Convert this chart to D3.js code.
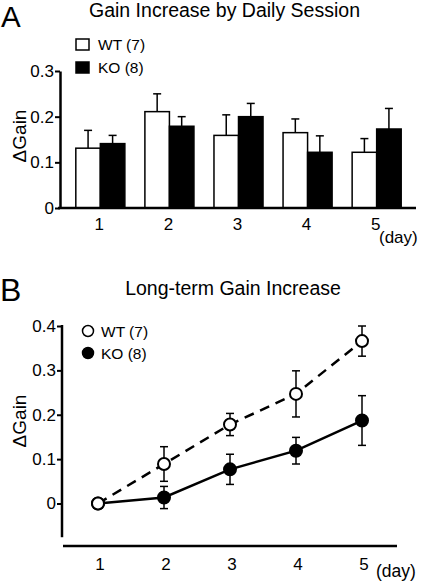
<!DOCTYPE html>
<html><head><meta charset="utf-8">
<script src="https://cdn.jsdelivr.net/npm/d3@7"></script>
<style>body{margin:0;background:#fff}svg{display:block;font-family:"Liberation Sans",Arial,sans-serif}</style>
</head><body>
<script>
const days = [1, 2, 3, 4, 5];
const groups = ["WT", "KO"];
const legendA = ["WT (7)", "KO (8)"];
// Panel A: daily gain increase (mean, SEM)
const wtDaily = [0.131, 0.211, 0.159, 0.165, 0.122];
const wtDailyErr = [0.039, 0.039, 0.045, 0.030, 0.030];
const koDaily = [0.141, 0.179, 0.200, 0.122, 0.173];
const koDailyErr = [0.018, 0.021, 0.029, 0.036, 0.045];
const ticksA = [0, 0.1, 0.2, 0.3];
// Panel B: long-term gain increase (mean, SEM)
const wtLong = [0, 0.089, 0.178, 0.247, 0.366];
const wtLongErr = [0, 0.039, 0.025, 0.052, 0.034];
const koLong = [0, 0.0135, 0.077, 0.119, 0.187];
const koLongErr = [0, 0.025, 0.034, 0.030, 0.056];
const ticksB = [0, 0.1, 0.2, 0.3, 0.4];

const svg = d3.select("body").append("svg").attr("width", 423).attr("height", 581);
const fmt = d => d === 0 ? "0" : d3.format(".1f")(d);
const FF = "Liberation Sans, Arial, sans-serif";

// ---------- Panel A ----------
svg.append("text").attr("x", 1).attr("y", 27).attr("font-size", 29.5).text("A");
svg.append("text").attr("x", 224.5).attr("y", 17).attr("text-anchor", "middle").attr("font-size", 19.5).text("Gain Increase by Daily Session");

const xA = d3.scaleBand().domain(days).range([62, 415]).paddingInner(0.29).paddingOuter(0.2);
const xG = d3.scaleBand().domain(groups).range([0, xA.bandwidth()]);
const yA = d3.scaleLinear().domain([0, 0.3]).range([208, 71]);

const gA = svg.append("g");
const dataA = days.map((d, i) => [
  {day: d, g: "WT", v: wtDaily[i], e: wtDailyErr[i]},
  {day: d, g: "KO", v: koDaily[i], e: koDailyErr[i]}
]).flat();

gA.selectAll(".errA").data(dataA).join("g").each(function(d) {
  const cx = xA(d.day) + xG(d.g) + xG.bandwidth() / 2;
  const s = d3.select(this);
  s.append("line").attr("x1", cx).attr("x2", cx).attr("y1", yA(d.v)).attr("y2", yA(d.v + d.e)).attr("stroke", "#000").attr("stroke-width", 1.5);
  s.append("line").attr("x1", cx - 4).attr("x2", cx + 4).attr("y1", yA(d.v + d.e)).attr("y2", yA(d.v + d.e)).attr("stroke", "#000").attr("stroke-width", 1.5);
});
gA.selectAll("rect.bar").data(dataA).join("rect")
  .attr("x", d => xA(d.day) + xG(d.g))
  .attr("y", d => yA(d.v))
  .attr("width", xG.bandwidth())
  .attr("height", d => yA(0) - yA(d.v))
  .attr("fill", d => d.g === "WT" ? "#fff" : "#000")
  .attr("stroke", "#000").attr("stroke-width", 1.5);

const axA = gA.append("g").attr("transform", "translate(60,0)")
  .call(d3.axisLeft(yA).tickValues(ticksA).tickFormat(fmt).tickSize(5).tickSizeOuter(0));
axA.select(".domain").attr("stroke-width", 2.5);
axA.selectAll(".tick line").attr("stroke-width", 2);
axA.selectAll(".tick text").attr("font-size", 17).attr("font-family", FF).attr("fill", "#000").attr("x", -6);
gA.append("line").attr("x1", 58).attr("x2", 416).attr("y1", yA(0)).attr("y2", yA(0)).attr("stroke", "#000").attr("stroke-width", 2.5);
gA.selectAll(".xlabA").data(days).join("text")
  .attr("x", d => xA(d) + xA.bandwidth() / 2 - 1).attr("y", 230)
  .attr("text-anchor", "middle").attr("font-size", 17).text(d => d);
gA.append("text").attr("x", 379).attr("y", 243).attr("font-size", 17).text("(day)");
gA.append("text").attr("transform", "translate(26,136) rotate(-90)").attr("text-anchor", "middle").attr("font-size", 19).text("ΔGain");

legendA.forEach((t, i) => {
  const y = 39 + i * 23;
  gA.append("rect").attr("x", 76).attr("y", y).attr("width", 13).attr("height", 11)
    .attr("fill", i === 0 ? "#fff" : "#000").attr("stroke", "#000").attr("stroke-width", 1.5);
  gA.append("text").attr("x", 98).attr("y", y + 11).attr("font-size", 15.5).text(t);
});

// ---------- Panel B ----------
svg.append("text").attr("x", 0).attr("y", 301).attr("font-size", 32).text("B");
svg.append("text").attr("x", 233).attr("y", 295).attr("text-anchor", "middle").attr("font-size", 19.5).text("Long-term Gain Increase");

const xB = d3.scaleLinear().domain([1, 5]).range([98, 362]);
const yB = d3.scaleLinear().domain([0, 0.4]).range([503.5, 326]);
const gB = svg.append("g");

const axB = gB.append("g").attr("transform", "translate(62,0)")
  .call(d3.axisLeft(yB).tickValues(ticksB).tickFormat(fmt).tickSize(5).tickSizeOuter(0));
axB.select(".domain").remove();
axB.append("line").attr("x1", 0).attr("x2", 0).attr("y1", yB(0.4) - 1).attr("y2", yB(-0.076)).attr("stroke", "#000").attr("stroke-width", 2.5);
axB.selectAll(".tick line").attr("stroke-width", 2);
axB.selectAll(".tick text").attr("font-size", 17).attr("font-family", FF).attr("fill", "#000").attr("x", -6);
gB.append("line").attr("x1", 63).attr("x2", 397).attr("y1", 546).attr("y2", 546).attr("stroke", "#000").attr("stroke-width", 2.5);
gB.selectAll(".xlabB").data(days).join("text")
  .attr("x", d => xB(d) + 2).attr("y", 570).attr("text-anchor", "middle").attr("font-size", 17).text(d => d);
gB.append("text").attr("x", 376).attr("y", 577).attr("font-size", 17.5).text("(day)");
gB.append("text").attr("transform", "translate(26,421) rotate(-90)").attr("text-anchor", "middle").attr("font-size", 19).text("ΔGain");

const series = [
  {name: "KO", vals: koLong, errs: koLongErr, fill: "#000", dash: null},
  {name: "WT", vals: wtLong, errs: wtLongErr, fill: "#fff", dash: "10,7"}
];
const line = d3.line().x((d, i) => xB(days[i])).y(d => yB(d));
series.forEach(s => {
  gB.append("path").attr("d", line(s.vals)).attr("fill", "none").attr("stroke", "#000").attr("stroke-width", 2.5)
    .attr("stroke-dasharray", s.dash);
});
series.forEach(s => {
  const g = gB.append("g");
  s.vals.forEach((v, i) => {
    const e = s.errs[i];
    if (e > 0) {
      const cx = xB(days[i]);
      g.append("line").attr("x1", cx).attr("x2", cx).attr("y1", yB(v - e)).attr("y2", yB(v + e)).attr("stroke", "#000").attr("stroke-width", 1.5);
      [v - e, v + e].forEach(yy => g.append("line").attr("x1", cx - 4).attr("x2", cx + 4).attr("y1", yB(yy)).attr("y2", yB(yy)).attr("stroke", "#000").attr("stroke-width", 1.5));
    }
  });
  g.selectAll("circle").data(s.vals).join("circle")
    .attr("cx", (d, i) => xB(days[i])).attr("cy", d => yB(d)).attr("r", 6)
    .attr("fill", s.fill).attr("stroke", "#000").attr("stroke-width", 2);
});

[{t: "WT (7)", f: "#fff"}, {t: "KO (8)", f: "#000"}].forEach((d, i) => {
  const y = 331 + i * 22;
  gB.append("circle").attr("cx", 88).attr("cy", y).attr("r", 5.5).attr("fill", d.f).attr("stroke", "#000").attr("stroke-width", 1.5);
  gB.append("text").attr("x", 101).attr("y", y + 6).attr("font-size", 15.5).text(d.t);
});
</script>
</body></html>
